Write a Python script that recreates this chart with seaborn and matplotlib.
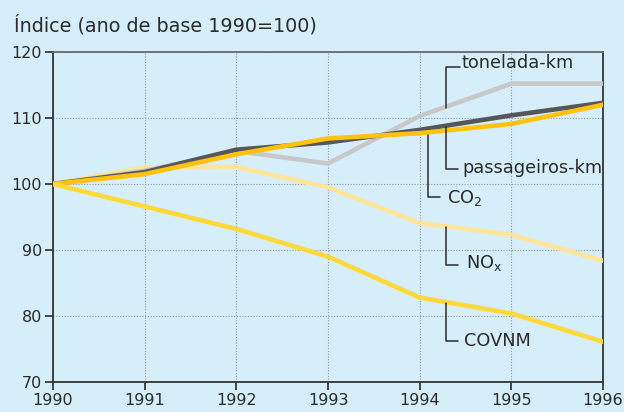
import matplotlib
matplotlib.use("Agg")
import matplotlib.pyplot as plt
import seaborn as sns
import pandas as pd

years = [1990, 1991, 1992, 1993, 1994, 1995, 1996]
tonelada_km = [100, 102.0, 105.0, 103.1, 110.3, 115.2, 115.2]
passageiros_km = [100, 101.8, 105.2, 106.3, 108.2, 110.4, 112.3]
co2 = [100, 101.5, 104.5, 106.9, 107.7, 109.1, 112.0]
nox = [100, 102.5, 102.6, 99.5, 94.1, 92.3, 88.4]
covnm = [100, 96.6, 93.2, 89.0, 82.8, 80.4, 76.1]

x_ticks = [1990, 1991, 1992, 1993, 1994, 1995, 1996]
y_ticks = [70, 80, 90, 100, 110, 120]
title = "Índice (ano de base 1990=100)"

sns.set_style("white")
plt.rcParams['font.family'] = ['DejaVu Sans']

bg = "#d6eef9"
txt = "#2b2b2b"
fig = plt.figure(figsize=(6.24, 4.12), dpi=100, facecolor=bg)
ax = fig.add_axes([53/624, 30/412, 550/624, 330/412])
ax.set_facecolor(bg)

series = [
    ("NOx", nox, "#ffe59a"),
    ("tonelada-km", tonelada_km, "#c8c8c8"),
    ("passageiros-km", passageiros_km, "#55575a"),
    ("CO2", co2, "#ffc20f"),
    ("COVNM", covnm, "#ffd83a"),
]
for name, vals, col in series:
    df = pd.DataFrame({"ano": years, "v": vals})
    sns.lineplot(data=df, x="ano", y="v", ax=ax, color=col, linewidth=3.3,
                 legend=False, zorder=3)

ax.set_xlim(1990, 1996)
ax.set_ylim(70, 120)
ax.set_xticks(x_ticks)
ax.set_yticks(y_ticks)
ax.set_xticklabels([str(t) for t in x_ticks])
ax.set_xlabel("")
ax.set_ylabel("")
ax.grid(True, color="#9a9a9a", linestyle=(0, (1, 1.5)), linewidth=0.8, zorder=0)
ax.tick_params(axis="both", direction="out", length=6, width=1.2, colors=txt,
               labelsize=11.5, pad=2, bottom=True, left=True)
for s in ["left", "bottom", "right"]:
    ax.spines[s].set_color("#333333")
    ax.spines[s].set_linewidth(1.3)
ax.spines["top"].set_color("#6a6a6a")
ax.spines["top"].set_linewidth(1.3)
for lab in ax.get_xticklabels() + ax.get_yticklabels():
    lab.set_color(txt)

fig.text(14/624, 1 - 25/412, title, fontsize=13.8, color=txt, va="center", ha="left")

def yr(px):
    return 1990 + (px - 53) / (550 / 6)

def val(py):
    return 70 + (382 - py) / 6.6

lc = "#2b2b2b"
def leader(x0, y0, y1, x1, label, tx, ty):
    ax.plot([yr(x0), yr(x0), yr(x1)], [val(y0), val(y1), val(y1)], color=lc,
            linewidth=1.1, zorder=5, clip_on=False)
    ax.text(yr(tx), val(ty), label, fontsize=12.8, color=txt, va="center",
            ha="left", zorder=6)

leader(446, 108, 67, 460, "tonelada-km", 462, 63)
leader(446, 127, 169, 458, "passageiros-km", 462, 168)
leader(428, 135, 197, 440, "CO$_2$", 447, 198)
leader(446, 227, 265, 458, "NO$_\\mathregular{x}$", 466, 263)
leader(446, 303, 341, 458, "COVNM", 464, 341)

fig.savefig("out.png", dpi=100, facecolor=bg)
